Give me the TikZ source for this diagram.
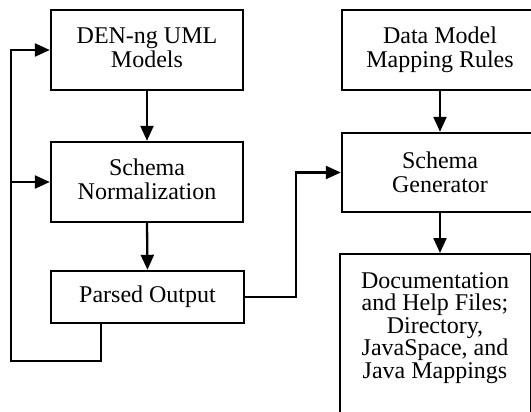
\documentclass[tikz,border=0pt]{standalone}
\usepackage{fontspec}
\setmainfont{Liberation Serif}
\usetikzlibrary{arrows.meta}
\begin{document}
\begin{tikzpicture}[x=1pt,y=-1pt,
  box/.style={draw,line width=2.4pt,rectangle,inner sep=0pt,align=center,
    font=\fontsize{24}{24.3}\selectfont},
  txt/.style={inner sep=0pt,align=center,font=\fontsize{24}{22.4}\selectfont},
  arr/.style={line width=2.3pt,-{Triangle[length=15pt,width=13pt]}},
  ln/.style={line width=2.3pt}]
\useasboundingbox (0,0) rectangle (531,412);
\clip (0,0) rectangle (531,412);
% left column
\node[box,minimum width=192pt,minimum height=80pt] (b1) at (147,50) {DEN-ng UML\\Models\vphantom{g}};
\node[box,minimum width=192pt,minimum height=80pt] (b2) at (147,182) {Schema\\Normalization\vphantom{g}};
\node[box,minimum width=193pt,minimum height=52pt] (b3) at (147.5,297) {Parsed Output};
% right column
\node[box,minimum width=196pt,minimum height=80pt] (dm) at (440,50) {Data Model\\Mapping Rules};
\node[box,minimum width=196pt,minimum height=79pt] (sg) at (440,172.5) {Schema\\Generator};
\node[draw,line width=2pt,inner sep=0pt,minimum width=191pt,minimum height=190pt,anchor=north west] (doc) at (339,253) {};
\node[txt] (doctxt) at (435,328) {Documentation\\and Help Files;\\Directory,\\JavaSpace, and\\Java Mappings};
% connectors
\draw[arr] (b1.south) -- (b2.north);
\draw[arr] (b2.south) -- (b3.north);
\draw[arr] (dm.south) -- (sg.north);
\draw[arr] (sg.south) -- (sg.south |- doc.north);
\coordinate (lb) at (101,323);
\coordinate (ll) at (11,361);
\coordinate (kx) at (296,0);
\draw[arr] (lb) |- (ll) |- (b1.west);
\draw[arr] (ll |- b2.west) -- (b2.west);
\draw[arr] (b3.east) -| (kx |- sg.west) -- (sg.west);
\end{tikzpicture}
\end{document}
